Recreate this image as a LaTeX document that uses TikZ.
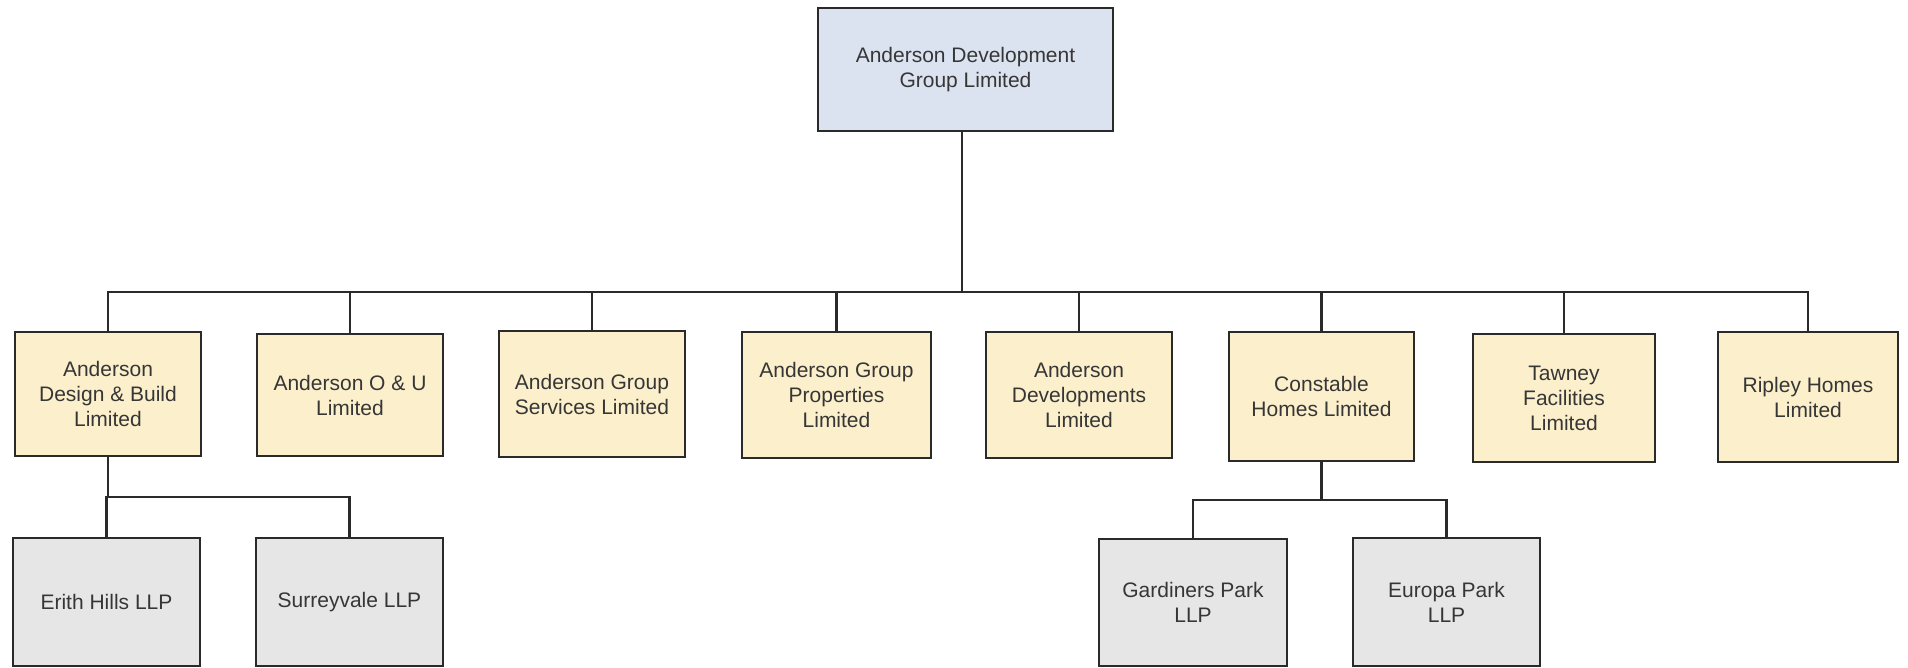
\documentclass[tikz,border=0pt]{standalone}
\usepackage{fontspec}
\setmainfont{Liberation Sans}
\definecolor{topfill}{HTML}{DCE3F0}
\definecolor{midfill}{HTML}{FCEFCB}
\definecolor{lowfill}{HTML}{E6E6E6}
\definecolor{edgecol}{HTML}{2A2A2A}
\definecolor{txtcol}{HTML}{363636}
\tikzset{
  orgbox/.style={draw=edgecol, line width=2.8pt, inner sep=0pt, align=center,
    text=txtcol, font=\fontsize{21}{25}\selectfont},
  topbox/.style={orgbox, fill=topfill},
  midbox/.style={orgbox, fill=midfill},
  lowbox/.style={orgbox, fill=lowfill},
  link/.style={draw=edgecol, line width=2.8pt, line cap=rect}
}
\begin{document}
\begin{tikzpicture}[x=1pt, y=-1pt]
\useasboundingbox (0,0) rectangle (1908,668);
\fill[white] (0,0) rectangle (1908,668);

\coordinate (bus) at (0,292);
\coordinate (busL) at (0,497);
\coordinate (busR) at (0,500);

\node[topbox, minimum width=295pt, minimum height=123pt] (top) at (965.5,69.5) {Anderson Development\\Group Limited};

\node[midbox, minimum width=186pt, minimum height=124pt] (b1) at (108,394) {Anderson\\Design \& Build\\Limited};
\node[midbox, minimum width=186pt, minimum height=122pt] (b2) at (350,395) {Anderson O \& U\\Limited};
\node[midbox, minimum width=186pt, minimum height=126pt] (b3) at (592,394) {Anderson Group\\Services Limited};
\node[midbox, minimum width=189pt, minimum height=126pt] (b4) at (836.5,395) {Anderson Group\\Properties\\Limited};
\node[midbox, minimum width=186pt, minimum height=126pt] (b5) at (1079,395) {Anderson\\Developments\\Limited};
\node[midbox, minimum width=185pt, minimum height=129pt] (b6) at (1321.5,396.5) {Constable\\Homes Limited};
\node[midbox, minimum width=182pt, minimum height=128pt] (b7) at (1564,398) {Tawney\\Facilities\\Limited};
\node[midbox, minimum width=180pt, minimum height=130pt] (b8) at (1808,397) {Ripley Homes\\Limited};

\node[lowbox, minimum width=187pt, minimum height=128pt] (c1) at (106.5,602) {Erith Hills LLP};
\node[lowbox, minimum width=187pt, minimum height=128pt] (c2) at (349.5,602) {Surreyvale LLP};
\node[lowbox, minimum width=188pt, minimum height=127pt] (c3) at (1193,602.5) {Gardiners Park\\LLP};
\node[lowbox, minimum width=187pt, minimum height=128pt] (c4) at (1446.5,602) {Europa Park\\LLP};

\draw[link] ([xshift=-3.5pt]top.south) -- ([xshift=-3.5pt]top.south |- bus);
\draw[link] (b1.north |- bus) -- (b8.north |- bus);
\foreach \b in {b1,b2,b3,b4,b5,b6,b7,b8}{
  \draw[link] (\b.north) -- (\b.north |- bus);
}
\draw[link] (b1.south) -- (b1.south |- busL);
\draw[link] (c1.north |- busL) -- (c2.north |- busL);
\draw[link] (c1.north) -- (c1.north |- busL);
\draw[link] (c2.north) -- (c2.north |- busL);

\draw[link] (b6.south) -- (b6.south |- busR);
\draw[link] (c3.north |- busR) -- (c4.north |- busR);
\draw[link] (c3.north) -- (c3.north |- busR);
\draw[link] (c4.north) -- (c4.north |- busR);
\end{tikzpicture}
\end{document}
